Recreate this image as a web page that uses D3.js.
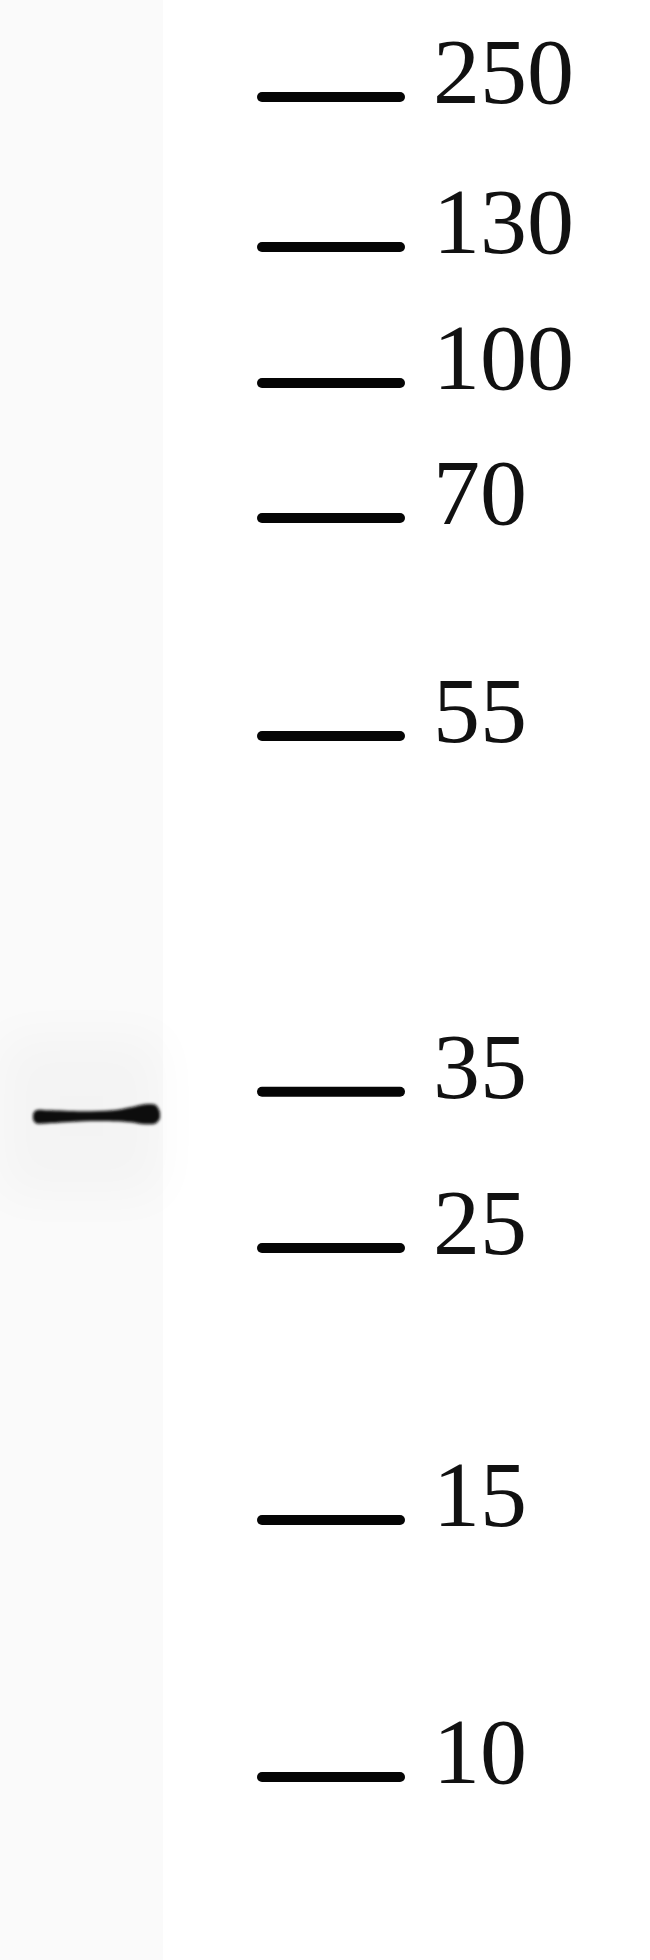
<!DOCTYPE html>
<html>
  <head>
    <meta charset="utf-8">
    <title>Western blot</title>
    <script src="https://d3js.org/d3.v7.min.js"></script>
    <style>
      html, body {
        margin: 0;
        padding: 0;
        background: #fff;
      }
      svg {
        display: block;
      }
    </style>
  </head>
<body>
  <script type="text/javascript">
    // marker ladder (kDa) and how far each one ran down the blot (fraction of height)
    var markerKda = [250, 130, 100, 70, 55, 35, 25, 15, 10];
    var markerRf = [0.0495, 0.126, 0.1954, 0.2643, 0.3755, 0.557, 0.6367, 0.7755, 0.9066];
    var markerLabels = ["250", "130", "100", "70", "55", "35", "25", "15", "10"];

    // one sample lane, one detected band
    var lanes = ["sample"];
    var bandKda = [33.2];

    var width = 650,
        height = 1960;

    var svg = d3.select("body")
      .append("svg")
        .attr("width", width)
        .attr("height", height);

    svg.append("rect")
      .attr("width", width)
      .attr("height", height)
      .attr("fill", "#fff");

    var defs = svg.append("defs");
    defs.append("filter").attr("id", "bandBlur")
      .attr("x", "-20%").attr("y", "-100%").attr("width", "140%").attr("height", "300%")
      .append("feGaussianBlur").attr("stdDeviation", 1.4);
    defs.append("filter").attr("id", "haze")
      .attr("x", "-50%").attr("y", "-100%").attr("width", "200%").attr("height", "300%")
      .append("feGaussianBlur").attr("stdDeviation", 25);

    /*
      scales: piecewise log scale from kDa to y, band scale for lanes
    */
    var y = d3.scaleLog()
      .domain(markerKda)
      .range(markerRf.map(function(r) { return r * height; }));

    var x = d3.scaleBand()
      .domain(lanes)
      .range([0, 163]);

    // lane background, barely off-white
    svg.selectAll(".lane")
      .data(lanes)
      .enter()
      .append("rect")
        .attr("class", "lane")
        .attr("x", function(d) { return x(d); })
        .attr("y", 0)
        .attr("width", x.bandwidth())
        .attr("height", height)
        .attr("fill", "#fafafa");

    // faint haze round the band
    svg.selectAll(".haze")
      .data(bandKda)
      .enter()
      .append("rect")
        .attr("class", "haze")
        .attr("x", x(lanes[0]))
        .attr("y", function(d) { return y(d) - 80; })
        .attr("width", x.bandwidth())
        .attr("height", 160)
        .attr("fill", "#000")
        .attr("opacity", 0.025)
        .attr("filter", "url(#haze)");

    /*
      band shape: thin on the left, swelling at the right end
    */
    var shape = [[0, -2, 3], [3, -6, 7], [15, -6, 7], [50, -5, 5], [80, -6, 5],
                 [98, -9, 6], [112, -12, 8], [123, -11, 7], [127, -4, 2]];

    var area = d3.area()
      .x(function(p) { return p.x; })
      .y0(function(p) { return p.y0; })
      .y1(function(p) { return p.y1; })
      .curve(d3.curveCatmullRom);

    svg.selectAll(".band")
      .data(bandKda)
      .enter()
      .append("path")
        .attr("class", "band")
        .attr("d", function(d) {
          var x0 = x(lanes[0]) + 33,
              yc = y(d);
          return area(shape.map(function(s) {
            return {x: x0 + s[0], y0: yc + s[1], y1: yc + s[2]};
          }));
        })
        .attr("fill", "#0a0a0a")
        .attr("filter", "url(#bandBlur)");

    /*
      marker ticks and labels
    */
    var marks = svg.append("g").attr("class", "markers");

    marks.selectAll("line")
      .data(markerKda)
      .enter()
      .append("line")
        .attr("x1", 262)
        .attr("x2", 400)
        .attr("y1", function(d) { return y(d); })
        .attr("y2", function(d) { return y(d); })
        .attr("stroke", "#050505")
        .attr("stroke-width", 10)
        .attr("stroke-linecap", "round");

    marks.selectAll("text")
      .data(markerKda)
      .enter()
      .append("text")
        .attr("x", 433)
        .attr("y", function(d) { return y(d) + 6; })
        .attr("font-family", "'Liberation Serif', 'DejaVu Serif', serif")
        .attr("font-size", 94)
        .attr("fill", "#111")
        .text(function(d, i) { return markerLabels[i]; });
  </script>
</body>
</html>
